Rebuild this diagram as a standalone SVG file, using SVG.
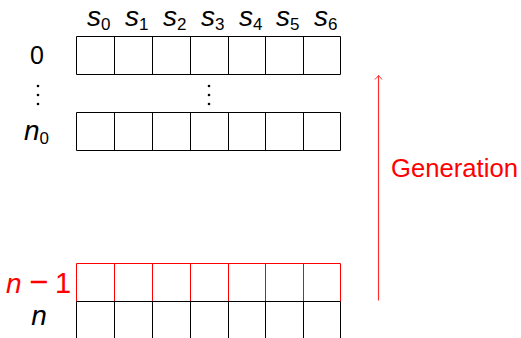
<svg xmlns="http://www.w3.org/2000/svg" width="521" height="338" viewBox="0 0 521 338">
<defs>
<style>
.t{font-family:"Liberation Sans","DejaVu Sans",sans-serif;font-size:25px;fill:#000}
.i{font-style:italic;font-size:28px}
.sub{font-size:17px;font-style:normal}
.red{fill:#ff0000}
.g{fill:none;stroke:#000;stroke-width:1}
.gr{fill:none;stroke:#ff0000;stroke-width:1}
</style>
<marker id="ah" markerWidth="10" markerHeight="10" refX="5" refY="5" orient="auto" markerUnits="userSpaceOnUse">
<path d="M1,1.5 L5,5 L1,8.5" fill="none" stroke="#ff3030" stroke-width="1"/>
</marker>
</defs>
<rect width="521" height="338" fill="#fff"/>
<g id="header">
<text class="t i" x="87" y="26">s<tspan class="sub" dy="4">0</tspan></text>
<text class="t i" x="125" y="26">s<tspan class="sub" dy="4">1</tspan></text>
<text class="t i" x="163" y="26">s<tspan class="sub" dy="4">2</tspan></text>
<text class="t i" x="201" y="26">s<tspan class="sub" dy="4">3</tspan></text>
<text class="t i" x="239" y="26">s<tspan class="sub" dy="4">4</tspan></text>
<text class="t i" x="276" y="26">s<tspan class="sub" dy="4">5</tspan></text>
<text class="t i" x="314" y="26">s<tspan class="sub" dy="4">6</tspan></text>
</g>
<g id="row0">
<text class="t" x="37" y="64" text-anchor="middle">0</text>
<path class="g" d="M76.5,36.5H340.5V74.5H76.5Z M114.5,36.5V74.5 M152.5,36.5V74.5 M190.5,36.5V74.5 M228.5,36.5V74.5 M265.5,36.5V74.5 M303.5,36.5V74.5"/>
</g>
<g id="dots">
<circle cx="38" cy="86" r="1.3"/><circle cx="38" cy="95" r="1.3"/><circle cx="38" cy="104" r="1.3"/>
<circle cx="209" cy="86" r="1.3"/><circle cx="209" cy="95" r="1.3"/><circle cx="209" cy="104" r="1.3"/>
</g>
<g id="rown0">
<text class="t i" x="24" y="140">n<tspan class="sub" dy="4">0</tspan></text>
<path class="g" d="M76.5,112.5H340.5V150.5H76.5Z M114.5,112.5V150.5 M152.5,112.5V150.5 M190.5,112.5V150.5 M228.5,112.5V150.5 M265.5,112.5V150.5 M303.5,112.5V150.5"/>
</g>
<g id="rown1">
<text class="t red" y="293"><tspan class="i" x="6">n</tspan><tspan x="29" style="font-size:33px">−</tspan><tspan x="55" style="font-size:29px">1</tspan></text>
<path class="gr" d="M76.5,263.5H340.5V301.5H76.5Z M114.5,263.5V301.5 M152.5,263.5V301.5 M190.5,263.5V301.5 M228.5,263.5V301.5 M265.5,263.5V301.5 M303.5,263.5V301.5"/>
</g>
<g id="rown">
<text class="t i" x="39" y="325" text-anchor="middle">n</text>
<path class="g" d="M76.5,301.5H340.5 M76.5,301.5V338 M114.5,301.5V338 M152.5,301.5V338 M190.5,301.5V338 M228.5,301.5V338 M265.5,301.5V338 M303.5,301.5V338 M340.5,301.5V338"/>
</g>
<g id="connectors">
<line x1="378.5" y1="300.5" x2="378.5" y2="75.5" stroke="#ff3030" stroke-width="1.2" marker-end="url(#ah)"/>
</g>
<g id="generation">
<text class="t red" x="391" y="177" textLength="127" lengthAdjust="spacingAndGlyphs">Generation</text>
</g>
</svg>
